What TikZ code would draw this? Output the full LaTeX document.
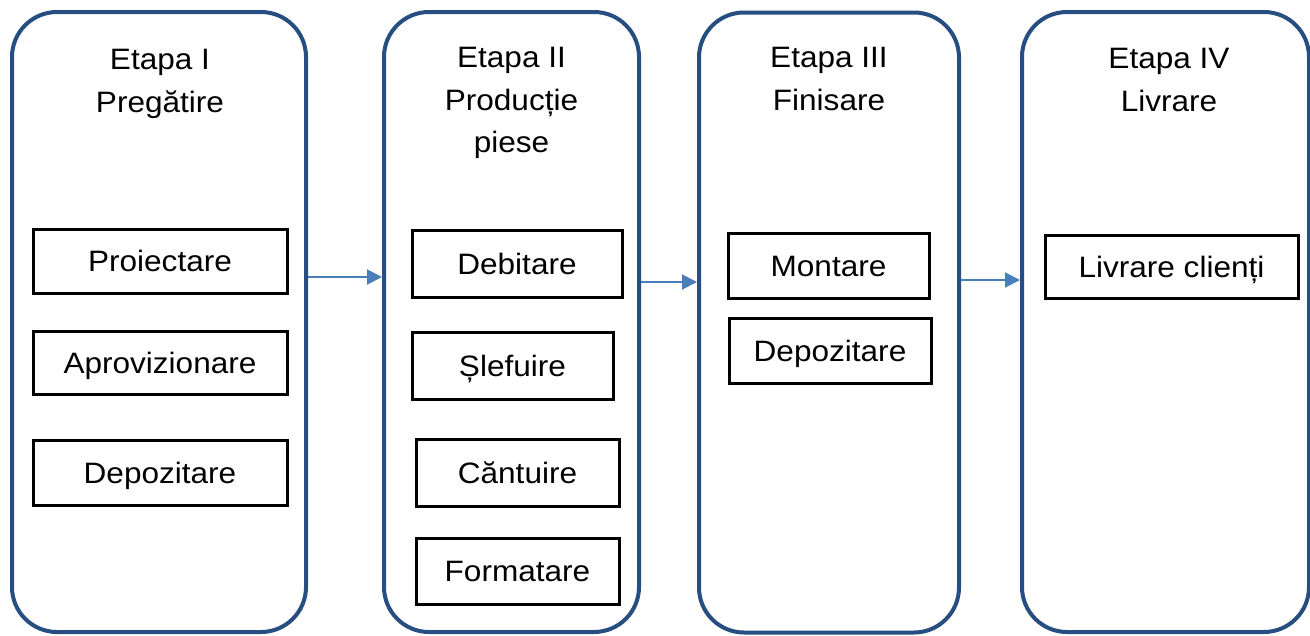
\documentclass[tikz,border=0pt]{standalone}
\usepackage{fontspec}
\setmainfont{Liberation Sans}[FakeStretch=1.07]
\usetikzlibrary{arrows.meta}
\definecolor{stageblue}{RGB}{38,78,128}
\definecolor{arrowblue}{RGB}{74,126,187}
\begin{document}
\begin{tikzpicture}[x=1pt,y=-1pt,
  stage/.style={draw=stageblue, line width=4pt, rounded corners=45pt, inner sep=0pt, minimum height=620pt},
  task/.style={draw=black, line width=3pt, inner sep=0pt, text height=21pt, text depth=0pt, font=\fontsize{29.5}{35}\selectfont},
  title/.style={anchor=base, inner sep=0pt, font=\fontsize{29.5}{35}\selectfont},
  flow/.style={draw=arrowblue, line width=2pt, -{Triangle[length=15pt,width=15pt]}}]
\useasboundingbox (0,0) rectangle (1310,635);

% stages
\node[stage, minimum width=294pt] (s1) at (159,322) {};
\node[stage, minimum width=255pt] (s2) at (511.5,322) {};
\node[stage, minimum width=260pt] (s3) at (829,322.5) {};
\node[stage, minimum width=287pt] (s4) at (1165.5,322) {};

% titles
\node[title] (t1a) at (160,69) {Etapa I};
\node[title] (t1b) at (160,112) {Pregătire};
\node[title] (t2a) at (511.5,67) {Etapa II};
\node[title] (t2b) at (511.5,110) {Producție};
\node[title] (t2c) at (511.5,152) {piese};
\node[title] (t3a) at (829,67) {Etapa III};
\node[title] (t3b) at (829,110) {Finisare};
\node[title] (t4a) at (1169,68) {Etapa IV};
\node[title] (t4b) at (1169,111) {Livrare};

% tasks
\node[task, minimum width=254pt, minimum height=64pt] (p1) at (160,261) {Proiectare};
\node[task, minimum width=254pt, minimum height=63pt] (p2) at (160,362.5) {Aprovizionare};
\node[task, minimum width=254pt, minimum height=65pt] (p3) at (160,472.5) {Depozitare};

\node[task, minimum width=210pt, minimum height=67pt] (q1) at (517,263.5) {Debitare};
\node[task, minimum width=201pt, minimum height=67pt] (q2) at (512.5,365.5) {Șlefuire};
\node[task, minimum width=203pt, minimum height=67pt] (q3) at (517.5,472.5) {Căntuire};
\node[task, minimum width=203pt, minimum height=66pt] (q4) at (517.5,571) {Formatare};

\node[task, minimum width=201pt, minimum height=65pt] (r1) at (828.5,265.5) {Montare};
\node[task, minimum width=202pt, minimum height=65pt] (r2) at (830,350.5) {Depozitare};

\node[task, minimum width=253pt, minimum height=63pt] (u1) at (1171.5,266.5) {Livrare clienți};

% flow arrows
\draw[flow] ([yshift=45pt]s1.east) -- ([yshift=45pt]s2.west);
\draw[flow] ([yshift=40pt]s2.east) -- ([yshift=40.5pt]s3.west);
\draw[flow] ([yshift=42.5pt]s3.east) -- ([yshift=42pt]s4.west);
\end{tikzpicture}
\end{document}
